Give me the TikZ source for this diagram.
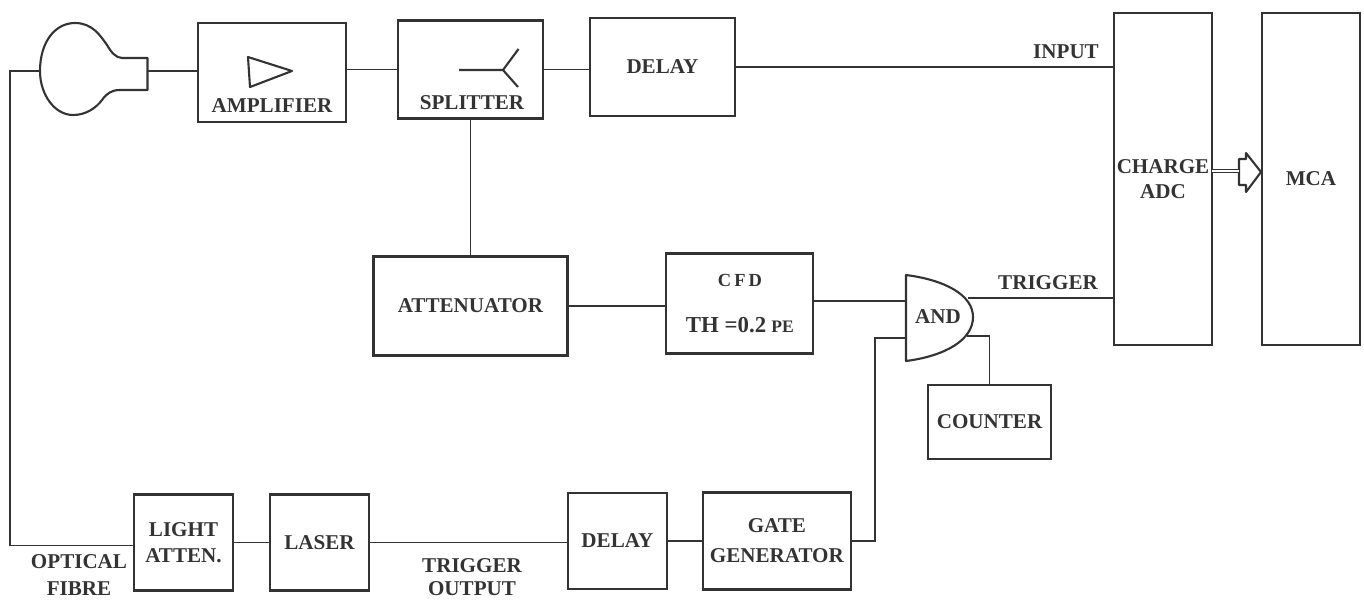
\documentclass[tikz,border=0pt]{standalone}
\usepackage{fontspec}
\setmainfont{Liberation Serif}
\usetikzlibrary{positioning}
\definecolor{ink}{HTML}{333333}

\begin{document}
\begin{tikzpicture}[
  x=0.02cm,y=-0.02cm,
  font=\fontsize{12}{14}\selectfont\bfseries,
  text=ink,
  blk/.style={draw=ink,line width=1.2pt,outer sep=0pt,inner sep=1pt,align=center,
              minimum width=2.9cm,minimum height=1.96cm},
  nar/.style={blk,minimum width=1.98cm,minimum height=1.92cm},
  tall/.style={blk,minimum width=1.96cm,minimum height=6.64cm},
  lab/.style={inner sep=0pt,align=center},
  ln/.style={draw=ink,line width=0.8pt},
  sym/.style={draw=ink,line width=1.2pt,line join=round}]
\useasboundingbox (0,0) rectangle (1364,599);

\node[blk,minimum width=2.96cm,minimum height=1.98cm] (amp) at (272,72.5) {};
\node[blk,right=1.04cm of amp,yshift=0.06cm] (split) {};
\node[blk,right=0.94cm of split,yshift=0.05cm] (del) {DELAY};
\node[tall] (adc) at (1163,179) {CHARGE\\[0pt]ADC};
\node[tall,right=1cm of adc] (mca) {MCA};

\node[blk,minimum width=3.88cm,minimum height=1.98cm,below=2.76cm of split] (att) {ATTENUATOR};
\node[blk,minimum width=2.94cm,minimum height=2cm,right=1.98cm of att,yshift=0.05cm] (cfd)
  {{\fontsize{10.5}{12}\selectfont C\,F\,D}\\[12pt]{\fontsize{13}{14}\selectfont TH =0.2} {\fontsize{10}{12}\selectfont PE}};

\node[nar] (la) at (183.5,542.5) {LIGHT\\[1pt]ATTEN.};
\node[nar,right=0.74cm of la] (las) {LASER};
\node[nar,right=3.98cm of las,yshift=0.03cm] (dl) {DELAY};
\node[blk,minimum width=2.96cm,minimum height=1.94cm,right=0.72cm of dl] (gate) {GATE\\[3pt]GENERATOR};
\node[blk,minimum width=2.46cm,minimum height=1.48cm] (cnt) at (989.5,422) {COUNTER};

\node[lab] (amplab) at (272,106) {AMPLIFIER};
\node[lab] (splitlab) at (472,103) {SPLITTER};
\node[lab] (andlab) at (938,317) {AND};
\node[lab] (inlab) at (1066,52) {INPUT};
\node[lab] (trlab) at (1048,283) {TRIGGER};
\node[lab] (fib) at (79,575) {OPTICAL\\[1pt]FIBRE};
\node[lab] (out) at (472,577) {TRIGGER\\[-1pt]OUTPUT};

\coordinate (pmtl) at (40,71);
\coordinate (pmtr) at (147.5,71);
\coordinate (andi) at (906,301);
\coordinate (ando) at (968,298);
\coordinate (andg) at (906,338);
\coordinate (andc) at (967,336);
\coordinate (ftop) at (10,71);
\coordinate (tail) at (1239,171);

\draw[sym] (pmtl) .. controls (40,42) and (55,23) .. (75,23)
  .. controls (92,23) and (100,35) .. (107,45)
  .. controls (111,52) and (116,58) .. (122,58) -- (147.5,58) -- (147.5,90) -- (120,90)
  .. controls (112,90) and (107,93) .. (102,100)
  .. controls (96,108) and (86,115) .. (73,115)
  .. controls (55,115) and (40,95) .. (pmtl) -- cycle;
\draw[sym] (248,57) -- (292,71) -- (250,87) -- cycle;
\draw[sym] (459,70) -- (503,70) (518.5,49) -- (503,70) -- (518,87);
\draw[sym] (906,275) .. controls (945,280) and (973,295) .. (973,317)
  .. controls (973,340) and (945,356) .. (906,361) -- cycle;
\draw[sym] (tail) ++(0,-12) -- ++(7,0) -- ++(0,-6) -- (1261,172) -- (1246,192) -- (1246,185) -- (1239,185) -- cycle;

\draw[ln] (pmtr) -- (amp.west |- pmtr);
\draw[ln] (split.west -| amp.east) -- (split.west);
\draw[ln] (split.east) -- (split.east -| del.west);
\draw[ln] (del.east) -- (del.east -| adc.west);
\draw[ln] (split) -- (att);
\draw[ln] (att) -- (att -| cfd.west);
\draw[ln] (cfd.east |- andi) -- (andi);
\draw[ln] (ando) -- (ando -| adc.west);
\draw[ln] (andc) -| (cnt);
\draw[ln] (pmtl) -- (ftop) |- ([yshift=-0.06cm]la.west);
\draw[ln] (la) -- (la -| las.west);
\draw[ln] (las) -- (las -| dl.west);
\draw[ln] (dl) -- (dl -| gate.west);
\draw[ln] (gate) -| (875,338) -- (andg);
\draw[ln,double,double distance=1.5pt,line width=0.5pt] (tail -| adc.east) -- (tail);
\end{tikzpicture}
\end{document}
